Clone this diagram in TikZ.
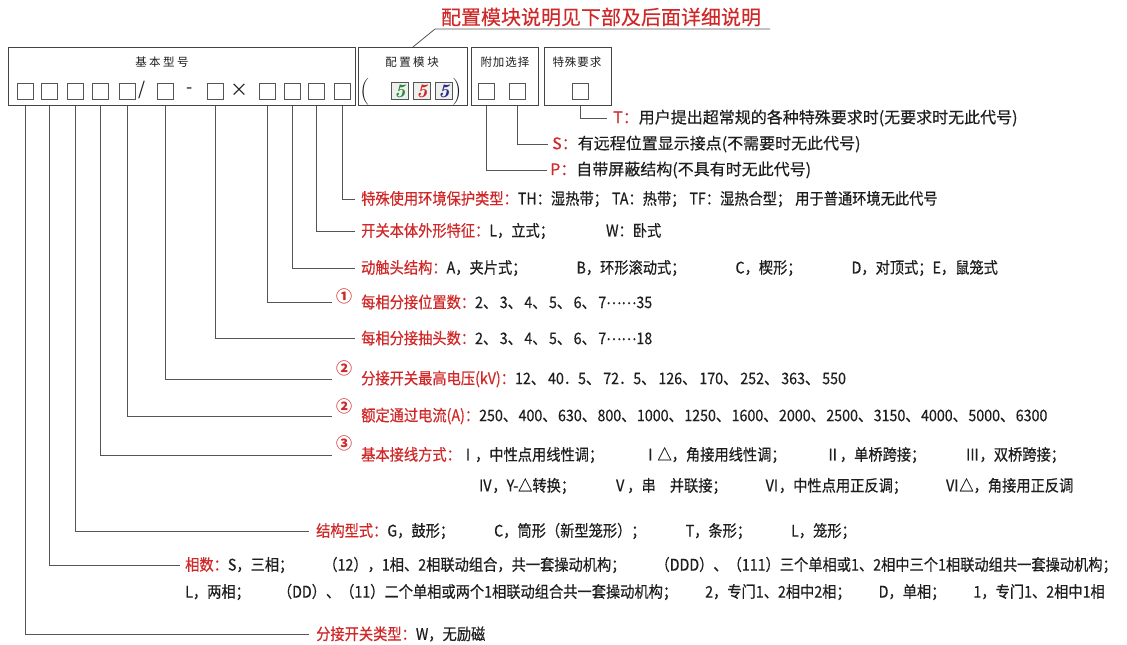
\documentclass[tikz,border=0pt]{standalone}
\usepackage{fontspec}
\newfontfamily\cjk[FakeStretch=0.89,FakeBold=0.35]{Noto Sans CJK SC}
\newfontfamily\cjkw[FakeBold=0.25]{Noto Sans CJK SC}
\newfontfamily\cjkt{Noto Sans CJK SC}
\definecolor{lgray}{HTML}{555555}
\definecolor{bgray}{HTML}{444444}
\definecolor{rd}{HTML}{D02828}
\definecolor{txt}{HTML}{1E1E1E}
\definecolor{gn}{HTML}{2A8A3A}
\definecolor{bl}{HTML}{2A2A8A}
\definecolor{sqfill}{HTML}{EEF0EE}
\newcommand{\R}[1]{\textcolor{rd}{#1}}
\newcommand{\gp}[1]{\hspace{#1pt}}
\newcommand{\dn}[1]{、\hspace{#1pt}}
\newcommand{\mydots}{\raisebox{4pt}{……}}
\begin{document}
\begin{tikzpicture}[x=1pt,y=-1pt,
  ln/.style={draw=lgray,line width=0.8pt},
  frame/.style={draw=bgray,line width=0.8pt},
  sq/.style={draw=lgray,line width=0.9pt,minimum size=16pt,inner sep=0pt},
  fsq/.style={sq,fill=sqfill,minimum size=17pt,font=\bfseries\itshape\fontsize{19}{19}\selectfont},
  lbl/.style={anchor=west,inner sep=0pt,text=txt,font=\cjk\fontsize{16}{17}\selectfont},
  lblw/.style={anchor=west,inner sep=0pt,text=txt,font=\cjkw\fontsize{16}{17}\selectfont},
  ttl/.style={inner sep=0pt,text=txt,font=\cjkt\fontsize{11.5}{12}\selectfont},
  sym/.style={inner sep=0pt,text=txt,font=\cjkt\fontsize{18}{18}\selectfont},
  mk/.style={inner sep=0pt,text=rd,font=\cjkt\bfseries\fontsize{16}{16}\selectfont}]
\useasboundingbox[fill=white] (0,0) rectangle (1127,645);

% frames
\node[frame,inner sep=0pt,minimum width=347pt,minimum height=58pt,anchor=north west] (main) at (8,47) {};
\node[frame,inner sep=0pt,minimum width=109pt,minimum height=58pt,anchor=north west] (cfg) at (358,47) {};
\node[frame,inner sep=0pt,minimum width=67pt,minimum height=58pt,anchor=north west] (add) at (471,47) {};
\node[frame,inner sep=0pt,minimum width=67pt,minimum height=58pt,anchor=north west] (spc) at (544,47) {};

% titles
\node[ttl] (t1) at (162,62) {基\hspace{2.5pt}本\hspace{2.5pt}型\hspace{2.5pt}号};
\node[ttl] (t2) at (412,62) {配\hspace{2.5pt}置\hspace{2.5pt}模\hspace{2.5pt}块};
\node[ttl] (t3) at (505,62) {附\hspace{1pt}加\hspace{1pt}选\hspace{1pt}择};
\node[ttl] (t4) at (577,62) {特\hspace{1pt}殊\hspace{1pt}要\hspace{1pt}求};

% heading
\node[inner sep=0pt,text=rd,font=\cjkw\fontsize{20}{20}\selectfont] (head) at (601,17) {配置模块说明见下部及后面详细说明};
\coordinate (hl) at (435,29);
\coordinate (hr) at (770,29);
\draw[ln] (hr) -- (hl) -- (cfg.north);

% basic model squares
\node[sq] (s1) at (25,91) {};
\node[sq] (s2) at (49,91) {};
\node[sq] (s3) at (75,91) {};
\node[sq] (s4) at (100,91) {};
\node[sq] (s5) at (127,91) {};
\node[sym] (slash) at (142,90) {/};
\node[sq] (s6) at (165,91) {};
\node[sym] (dash) at (190,91) {-};
\node[sq] (s7) at (215,91) {};
\node[sym] (times) at (239,90) {×};
\node[sq] (s8) at (267,91) {};
\node[sq] (s9) at (292,91) {};
\node[sq] (s10) at (316,91) {};
\node[sq] (s11) at (342,91) {};

% config module
\node[inner sep=0pt,text=txt,font=\fontsize{27}{27}\selectfont] (lp) at (365,92) {(};
\node[fsq,text=gn] (c1) at (400,91) {5};
\node[fsq,text=rd] (c2) at (422,91) {5};
\node[fsq,text=bl] (c3) at (444,91) {5};
\node[inner sep=0pt,text=txt,font=\fontsize{27}{27}\selectfont] (rp) at (457,92) {)};

% additional / special squares
\node[sq] (a1) at (486,91) {};
\node[sq] (a2) at (517,91) {};
\node[sq] (p1) at (580,91) {};

% bottoms of frames under each square
\foreach \i in {1,...,11} \coordinate (b\i) at (s\i |- main.south);
\coordinate (ba1) at (a1 |- add.south);
\coordinate (ba2) at (a2 |- add.south);
\coordinate (bp1) at (p1 |- spc.south);

% right side explanations
\node[lblw] (lT) at (613,118) {\R{T：}用户提出超常规的各种特殊要求时(无要求时无此代号)};
\node[lblw] (lS) at (552,144) {\R{S：}有远程位置显示接点(不需要时无此代号)};
\node[lblw] (lP) at (550,170) {\R{P：}自带屏蔽结构(不具有时无此代号)};
\node[lbl] (l11) at (361,199) {\R{特殊使用环境保护类型：}TH：湿热带；\gp{4}TA：热带；\gp{4}TF：湿热合型；\gp{4}用于普通环境无此代号};
\node[lbl] (l10) at (361,231) {\R{开关本体外形特征：}L，立式；\gp{52}W：卧式};
\node[lbl] (l9) at (361,268) {\R{动触头结构：}A，夹片式；\gp{50}B，环形滚动式；\gp{50}C，楔形；\gp{50}D，对顶式；E，鼠笼式};
\node[lbl] (l8) at (361,302) {\R{每相分接位置数：}2\dn{2.5}3\dn{2.5}4\dn{2.5}5\dn{2.5}6\dn{2.5}7\mydots 35};
\node[mk] (m8) at (344,296) {①};
\node[lbl] (l7) at (361,338) {\R{每相分接抽头数：}2\dn{2.5}3\dn{2.5}4\dn{2.5}5\dn{2.5}6\dn{2.5}7\mydots 18};
\node[lbl] (l6) at (361,379) {\R{分接开关最高电压(kV)：}12\dn{3}40．5\dn{3}72．5\dn{3}126\dn{3}170\dn{3}252\dn{3}363\dn{3}550};
\node[mk] (m6) at (344,368) {②};
\node[lbl] (l5) at (361,416) {\R{额定通过电流(A)：}250\dn{1.5}400\dn{1.5}630\dn{1.5}800\dn{1.5}1000\dn{1.5}1250\dn{1.5}1600\dn{1.5}2000\dn{1.5}2500\dn{1.5}3150\dn{1.5}4000\dn{1.5}5000\dn{1.5}6300};
\node[mk] (m5) at (344,406) {②};
\node[lbl] (l4) at (361,455) {\R{基本接线方式：}Ⅰ，中性点用线性调；\gp{40}Ⅰ△，角接用线性调；\gp{40}Ⅱ，单桥跨接；\gp{40}Ⅲ，双桥跨接；};
\node[lbl] (l4b) at (478,486) {Ⅳ，Y-△转换；\gp{38}Ⅴ，串\gp{14}并联接；\gp{38}Ⅵ，中性点用正反调；\gp{38}Ⅵ△，角接用正反调};
\node[mk] (m4) at (344,443) {③};
\node[lbl] (l3) at (316,531) {\R{结构型式：}G，鼓形；\gp{40}C，筒形（新型笼形）；\gp{40}T，条形；\gp{40}L，笼形；};
\node[lbl] (l2) at (185,565) {\R{相数：}S，三相；\gp{30}（12），1相、2相联动组合，共一套操动机构；\gp{30}（DDD）、（111）三个单相或1、2相中三个1相联动组共一套操动机构；};
\node[lbl] (l2b) at (185,592) {L，两相；\gp{28}（DD）、（11）二个单相或两个1相联动组合共一套操动机构；\gp{28}2，专门1、2相中2相；\gp{28}D，单相；\gp{28}1，专门1、2相中1相};
\node[lbl] (l1) at (316,634) {\R{分接开关类型：}W，无励磁};

% connectors
\draw[ln] (bp1) |- ([xshift=-6pt]lT.west);
\draw[ln] (ba2) |- ([xshift=-4pt]lS.west);
\draw[ln] (ba1) |- ([xshift=-3pt]lP.west);
\draw[ln] (b11) |- ([xshift=-6pt]l11.west);
\draw[ln] (b10) |- ([xshift=-6pt]l10.west);
\draw[ln] (b9) |- ([xshift=-6pt]l9.west);
\draw[ln] (b8) |- ([xshift=-4pt]m8.west |- l8.west);
\draw[ln] (b7) |- ([xshift=-6pt]l7.west);
\draw[ln] (b6) |- ([xshift=-4pt]m6.west |- l6.west);
\draw[ln] (b5) |- ([xshift=-4pt]m5.west |- l5.west);
\draw[ln] (b4) |- ([xshift=-4pt]m4.west |- l4.west);
\draw[ln] (b3) |- ([xshift=-7pt]l3.west);
\draw[ln] (b2) |- ([xshift=-5pt]l2.west);
\draw[ln] (b1) |- ([xshift=-7pt]l1.west);
\end{tikzpicture}
\end{document}
